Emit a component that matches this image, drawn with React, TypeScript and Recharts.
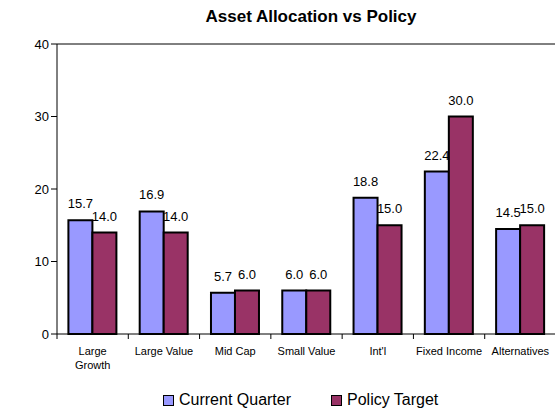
import React from 'react'
import { BarChart, Bar, XAxis, YAxis, LabelList, ReferenceLine } from 'recharts'

const categories = ['Large Growth', 'Large Value', 'Mid Cap', 'Small Value', "Int'l", 'Fixed Income', 'Alternatives']
const currentQuarter = [15.7, 16.9, 5.7, 6.0, 18.8, 22.4, 14.5]
const policyTarget = [14.0, 14.0, 6.0, 6.0, 15.0, 30.0, 15.0]
const yTicks = [0, 10, 20, 30, 40]

const FONT = '"Liberation Sans", Arial, sans-serif'
const CUR = '#9999FF'
const POL = '#993366'

const data = categories.map((c, i) => ({
  name: c,
  current: currentQuarter[i],
  policy: policyTarget[i],
}))

// category label, plus Excel-style tick mark at the left edge of each category
function CatTick(props: any) {
  const { x, y, payload } = props
  const band = 499 / categories.length
  const lines = payload.value === 'Large Growth' ? ['Large', 'Growth'] : [payload.value]
  return (
    <g>
      <line x1={x - band / 2} x2={x - band / 2} y1={y - 8} y2={y - 3} stroke="#000" />
      <text x={x} y={y + 13} textAnchor="middle" fontSize={11} fontFamily={FONT} fill="#000">
        {lines.map((l, i) => (
          <tspan key={i} x={x} dy={i === 0 ? 0 : 14}>
            {l}
          </tspan>
        ))}
      </text>
    </g>
  )
}

function LegendBox() {
  const items = [
    { label: 'Current Quarter', color: CUR, left: 163 },
    { label: 'Policy Target', color: POL, left: 331 },
  ]
  return (
    <>
      {items.map((it) => (
        <div
          key={it.label}
          style={{
            position: 'absolute',
            top: 391,
            left: it.left,
            display: 'flex',
            alignItems: 'center',
            fontFamily: FONT,
            fontSize: 16,
            lineHeight: '18px',
            whiteSpace: 'nowrap',
          }}
        >
          <span style={{ width: 9, height: 9, background: it.color, border: '1px solid #000', marginRight: 5 }} />
          {it.label}
        </div>
      ))}
    </>
  )
}

export default function App() {
  return (
    <div style={{ position: 'fixed', top: 0, left: 0, width: 555, height: 411, overflow: 'hidden', background: '#fff' }}>
      <div
        style={{
          position: 'absolute',
          top: 7,
          left: 0,
          width: 622,
          textAlign: 'center',
          fontFamily: FONT,
          fontWeight: 'bold',
          fontSize: 17,
          zIndex: 2,
        }}
      >
        Asset Allocation vs Policy
      </div>
      <BarChart
        width={565}
        height={411}
        data={data}
        margin={{ top: 44, right: 9, left: 0, bottom: 42 }}
        barCategoryGap="16%"
        barGap={0}
      >
        <ReferenceLine y={40} stroke="#000" />
        <XAxis
          dataKey="name"
          axisLine={{ stroke: '#000' }}
          tickLine={false}
          tick={<CatTick />}
          interval={0}
          height={35}
        />
        <YAxis
          domain={[0, 40]}
          ticks={yTicks}
          width={57}
          axisLine={{ stroke: '#000' }}
          tickLine={{ stroke: '#000' }}
          tick={{ fontSize: 13, fontFamily: FONT, fill: '#000' }}
          tickSize={6}
        />
        <Bar dataKey="current" fill={CUR} stroke="#000" strokeWidth={2} isAnimationActive={false}>
          <LabelList
            dataKey="current"
            position="top"
            offset={12}
            formatter={(v: any) => Number(v).toFixed(1)}
            style={{ fontSize: 13, fontFamily: FONT, fill: '#000' }}
          />
        </Bar>
        <Bar dataKey="policy" fill={POL} stroke="#000" strokeWidth={2} isAnimationActive={false}>
          <LabelList
            dataKey="policy"
            position="top"
            offset={12}
            formatter={(v: any) => Number(v).toFixed(1)}
            style={{ fontSize: 13, fontFamily: FONT, fill: '#000' }}
          />
        </Bar>
      </BarChart>
      <LegendBox />
    </div>
  )
}
